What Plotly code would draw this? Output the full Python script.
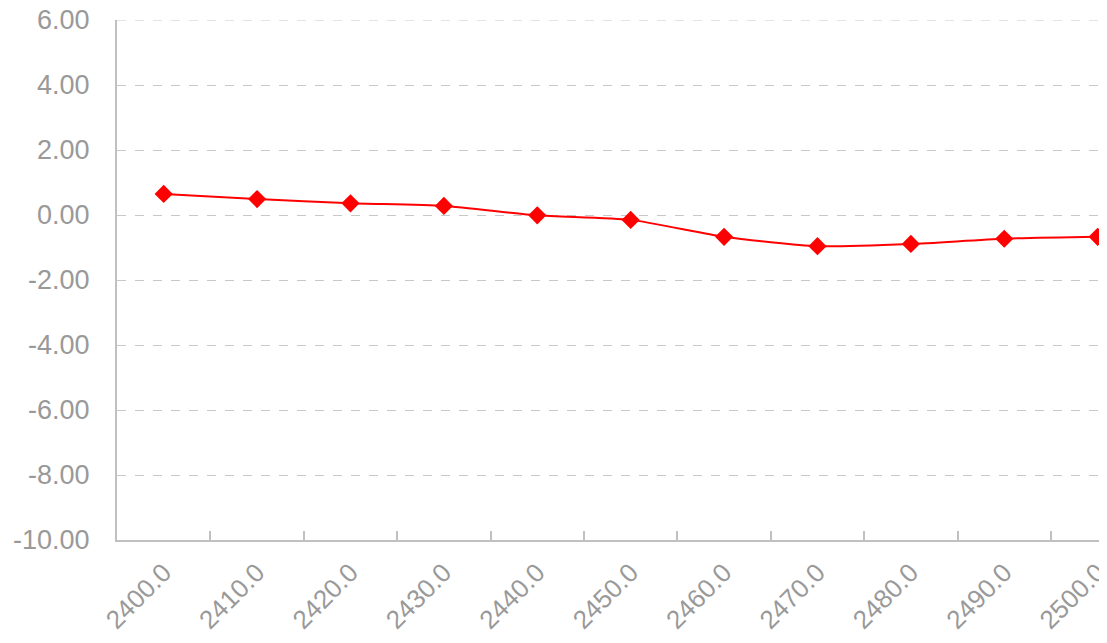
import plotly.graph_objects as go

categories = ["2400.0", "2410.0", "2420.0", "2430.0", "2440.0", "2450.0",
              "2460.0", "2470.0", "2480.0", "2490.0", "2500.0"]
values = [0.65, 0.49, 0.36, 0.28, -0.01, -0.15, -0.67, -0.96, -0.89, -0.73, -0.67]
y_ticks = [6, 4, 2, 0, -2, -4, -6, -8, -10]
y_ticktext = [f"{v:.2f}" for v in y_ticks]

fig = go.Figure()
fig.add_trace(go.Scatter(
    x=categories, y=values, mode="lines+markers",
    line=dict(color="#ff0000", width=2, shape="spline", smoothing=0.6),
    marker=dict(symbol="diamond", size=14, color="#ff0000"),
    showlegend=False, cliponaxis=False,
))

# top gridline (6.00) drawn dashed like the others
fig.add_shape(type="line", xref="paper", x0=0, x1=1, yref="y",
              y0=y_ticks[0], y1=y_ticks[0],
              line=dict(color="#c8c8c8", width=1, dash="dash"), layer="below")

fig.update_layout(
    width=1099, height=635,
    margin=dict(l=109, r=0, t=12, b=103, autoexpand=False),
    paper_bgcolor="white", plot_bgcolor="white",
    font=dict(family="Liberation Sans, Arial, sans-serif", size=26, color="#999999"),
)
fig.update_xaxes(
    type="category", range=[-0.5, 10.1], tickangle=-45,
    tickson="boundaries", ticks="inside", ticklen=9, tickcolor="#c0c0c0", tickwidth=1.5,
    showline=True, linecolor="#c0c0c0", linewidth=2, showgrid=False,
    automargin=False, ticklabeloverflow="allow", ticklabelstandoff=5,
    tickfont=dict(size=26, color="#999999"),
)
fig.update_yaxes(
    range=[-10, 6], tickvals=y_ticks, ticktext=y_ticktext,
    showline=True, linecolor="#c0c0c0", linewidth=2,
    showgrid=True, gridcolor="#c8c8c8", griddash="dash", gridwidth=1,
    zeroline=False, ticks="", automargin=False, ticklabelstandoff=20,
    ticklabeloverflow="allow",
    tickfont=dict(size=27, color="#999999"),
)
fig.write_html("out.html")
